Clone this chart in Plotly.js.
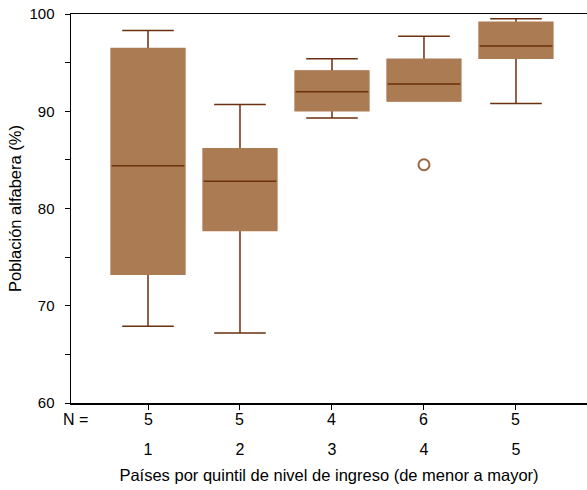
<!DOCTYPE html>
<html>
<head>
<meta charset="utf-8">
<script src="https://cdn.plot.ly/plotly-3.0.1.min.js"></script>
<style>html,body{margin:0;padding:0;background:#fff;}#chart{width:587px;height:490px;}</style>
</head>
<body>
<div id="chart"></div>
<script>
// Quintiles de ingreso (categorías) y número de países por quintil
const quintiles = [1, 2, 3, 4, 5];
const nPaises = [5, 5, 4, 6, 5];

// Estadísticos de las cajas (Población alfabeta, %)
const bigoteInferior = [67.9, 67.2, 89.3, 91.1, 90.8];
const cuartil1 = [73.3, 77.8, 90.1, 91.1, 95.5];
const mediana = [84.4, 82.8, 92.0, 92.8, 96.7];
const cuartil3 = [96.4, 86.1, 94.1, 95.3, 99.1];
const bigoteSuperior = [98.3, 90.7, 95.4, 97.7, 99.5];

// Valores atípicos
const atipicoX = [4];
const atipicoY = [84.5];

const FILL = '#ab7b53';
const DARK = '#6b300f';
const FONT = '"Liberation Sans", Arial, sans-serif';
const BOXW = 0.79;

const traces = [
  {
    type: 'box', x: quintiles, q1: cuartil1, median: mediana, q3: cuartil3,
    lowerfence: bigoteInferior, upperfence: bigoteSuperior,
    fillcolor: FILL, line: {color: DARK, width: 1.5}, whiskerwidth: 0.71,
    width: BOXW, boxpoints: false, hoverinfo: 'skip', showlegend: false
  },
  {
    type: 'box', x: quintiles, q1: cuartil1, median: mediana, q3: cuartil3,
    lowerfence: cuartil1, upperfence: cuartil3,
    fillcolor: FILL, line: {color: FILL, width: 2.5}, whiskerwidth: 0,
    width: BOXW, boxpoints: false, hoverinfo: 'skip', showlegend: false
  },
  {
    type: 'box', x: quintiles, q1: mediana, median: mediana, q3: mediana,
    lowerfence: mediana, upperfence: mediana,
    fillcolor: DARK, line: {color: DARK, width: 1.5}, whiskerwidth: 0,
    width: BOXW, boxpoints: false, hoverinfo: 'skip', showlegend: false
  },
  {
    type: 'scatter', mode: 'markers', x: atipicoX, y: atipicoY,
    marker: {symbol: 'circle-open', size: 11, color: '#9a6440', line: {width: 2, color: '#9a6440'}},
    hoverinfo: 'skip', showlegend: false, cliponaxis: false
  }
];

const annotations = nPaises.map((n, i) => ({
  x: quintiles[i], xref: 'x', y: 0, yref: 'paper', yanchor: 'top', yshift: -6,
  text: String(n), showarrow: false, font: {family: FONT, size: 16, color: '#000'}
}));
annotations.push({
  x: 0, xref: 'paper', y: 0, yref: 'paper', yanchor: 'top', yshift: -6, xanchor: 'center', xshift: 4,
  text: 'N =', showarrow: false, font: {family: FONT, size: 16, color: '#000'}
});

const layout = {
  width: 587, height: 490,
  margin: {l: 71, r: 0, t: 14, b: 87},
  paper_bgcolor: '#fff', plot_bgcolor: '#fff',
  boxmode: 'overlay',
  font: {family: FONT, size: 16, color: '#000'},
  xaxis: {
    range: [0.163, 5.772], tickvals: quintiles, ticktext: quintiles.map(String),
    showline: true, linecolor: '#000', linewidth: 1.5, mirror: true,
    ticks: 'outside', ticklen: 5, tickcolor: '#000', tickwidth: 1,
    ticklabelstandoff: 26, showgrid: false, zeroline: false,
    tickfont: {family: FONT, size: 16, color: '#000'},
    title: {text: 'Países por quintil de nivel de ingreso (de menor a mayor)', font: {family: FONT, size: 16.5, color: '#000'}, standoff: 12},
    automargin: false
  },
  yaxis: {
    range: [60, 100], tickvals: [60, 70, 80, 90, 100],
    showline: true, linecolor: '#000', linewidth: 1.5,
    ticks: 'outside', ticklen: 5, tickcolor: '#000', tickwidth: 1,
    minor: {dtick: 5, ticks: 'outside', ticklen: 5, tickcolor: '#000', tickwidth: 1, showgrid: false},
    ticklabelstandoff: 7, showgrid: false, zeroline: false,
    tickfont: {family: FONT, size: 15, color: '#000'},
    title: {text: 'Población alfabera (%)', font: {family: FONT, size: 16.5, color: '#000'}, standoff: 3},
    automargin: false
  },
  annotations: annotations
};

Plotly.newPlot('chart', traces, layout, {staticPlot: true, displayModeBar: false});
</script>
</body>
</html>
